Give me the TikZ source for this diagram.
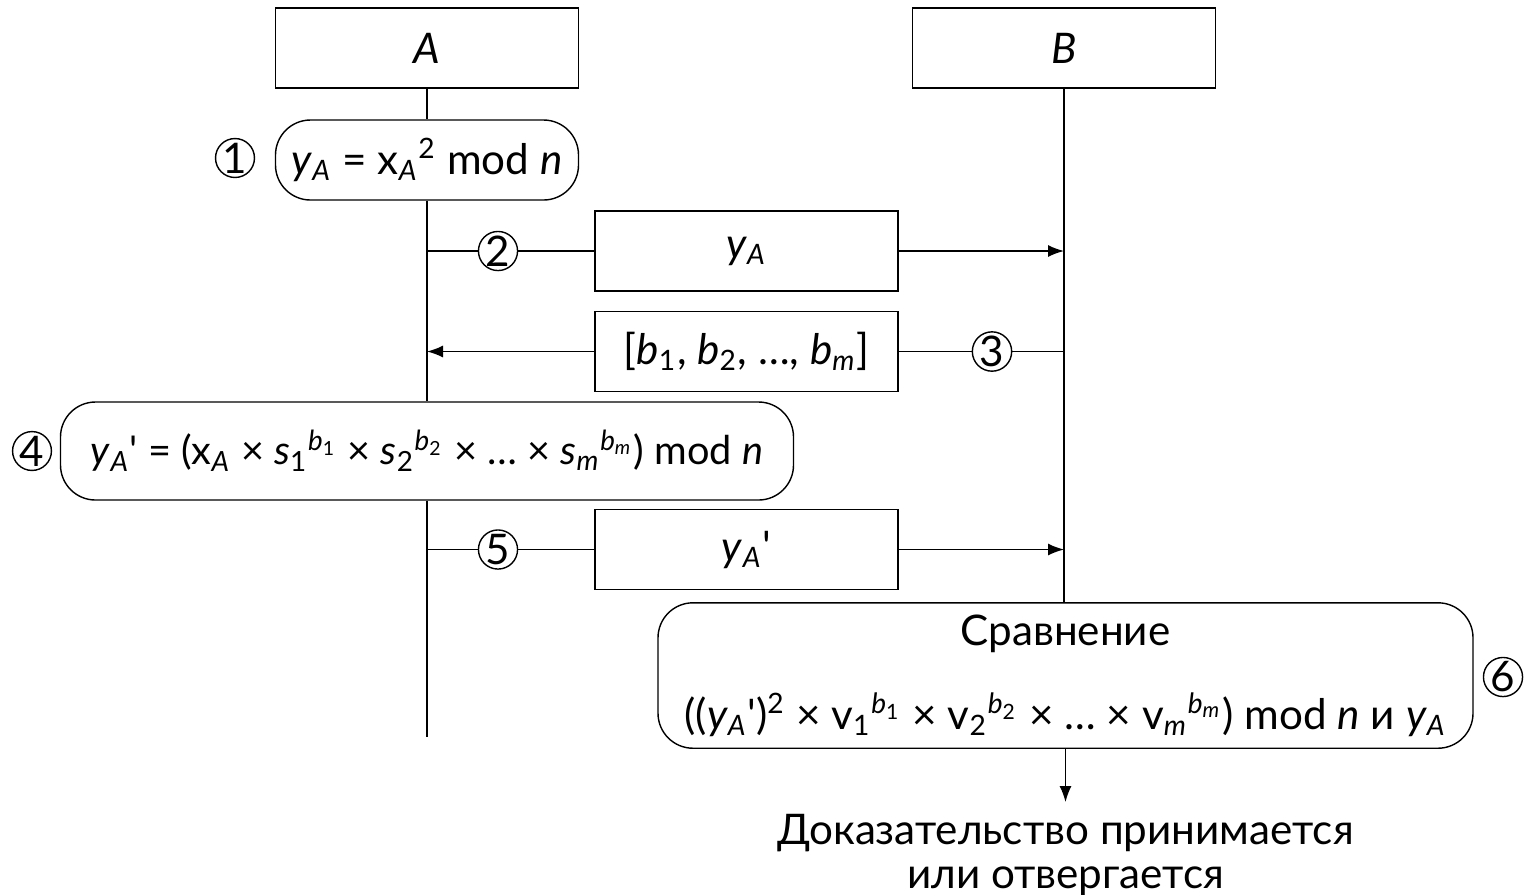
\documentclass[tikz,border=0pt]{standalone}
\usepackage{fontspec}
\setmainfont{Lato}
\usetikzlibrary{arrows.meta,positioning}
\newcommand\yA{\textit{y}\textsubscript{\textit{A}}}
\newcommand\xA{x\textsubscript{\textit{A}}}
\newcommand\pw[2]{\textsuperscript{\textit{#1}\textsubscript{#2}}}
\newcommand\qp{\textquotesingle}

\begin{document}
\begin{tikzpicture}[font=\fontsize{12}{14}\selectfont,
box/.style={draw,minimum width=30.3mm,minimum height=8mm,align=center},
rbox/.style={draw,rounded corners=3.5mm,align=center},
num/.style={draw,circle,minimum size=3.8mm,inner sep=0pt},
arr/.style={-{Latex[length=1.6mm,width=1.2mm]}}]
\useasboundingbox (0,0) rectangle (15.3,-8.94);
% participants
\node[box] (A) at (4.27,-0.48) {\textit{A}};
\node[box] (B) at (10.64,-0.48) {\textit{B}};
% step 1
\node[rbox,minimum width=30.3mm,minimum height=8mm] (s1) at (4.27,-1.6) {\yA{} = \xA\textsuperscript{2} mod \textit{n}};
\node[num] (n1) at (2.35,-1.58) {1};
% step 2
\node[box] (m2) at (7.465,-2.51) {\yA};
\node[num] (n2) at (4.98,-2.51) {2};
% step 3
\node[box] (m3) at (7.465,-3.515) {[\textit{b}\textsubscript{1}, \textit{b}\textsubscript{2}, …, \textit{b}\textsubscript{\textit{m}}]};
\node[num] (n3) at (9.92,-3.515) {3};
% step 4
\node[rbox,minimum width=73.3mm,minimum height=9.8mm,font=\fontsize{11.3}{13}\selectfont] (s4) at (4.27,-4.51) {\yA\qp{} = (\xA{} × \textit{s}\textsubscript{1}\pw{b}{1} × \textit{s}\textsubscript{2}\pw{b}{2} × … × \textit{s}\textsubscript{\textit{m}}\pw{b}{\textit{m}}) mod \textit{n}};
\node[num] (n4) at (0.32,-4.51) {4};
% step 5
\node[box] (m5) at (7.465,-5.495) {\yA\qp};
\node[num] (n5) at (4.98,-5.495) {5};
% step 6
\node[rbox,minimum width=81.5mm,minimum height=14.1mm] (s6) at (10.655,-6.755) {Сравнение\\[3.5mm] ((\yA\qp)\textsuperscript{2} × v\textsubscript{1}\pw{b}{1} × v\textsubscript{2}\pw{b}{2} × … × v\textsubscript{\textit{m}}\pw{b}{\textit{m}}) mod \textit{n} и \yA};
\node[num] (n6) at (15.03,-6.77) {6};
\node[anchor=north,align=center,font=\fontsize{12}{12.5}\selectfont] (res) at (10.655,-8.02) {Доказательство принимается\\или отвергается};
% lifelines
\coordinate (endA) at (4.27,-7.37);
\draw (A)--(s1) (s1)--(s4) (s4)--(endA);
\draw (B.south)--(B.south |- s6.north);
% messages
\coordinate (a2) at (A |- m2); \coordinate (b2) at (B |- m2);
\coordinate (a3) at (A |- m3); \coordinate (b3) at (B |- m3);
\coordinate (a5) at (A |- m5); \coordinate (b5) at (B |- m5);
\draw (a2)--(n2)--(m2); \draw[arr] (m2)--(b2);
\draw (b3)--(n3)--(m3); \draw[arr] (m3)--(a3);
\draw (a5)--(n5)--(m5); \draw[arr] (m5)--(b5);
\draw[arr] (s6.south)--(res.north);
\end{tikzpicture}
\end{document}
